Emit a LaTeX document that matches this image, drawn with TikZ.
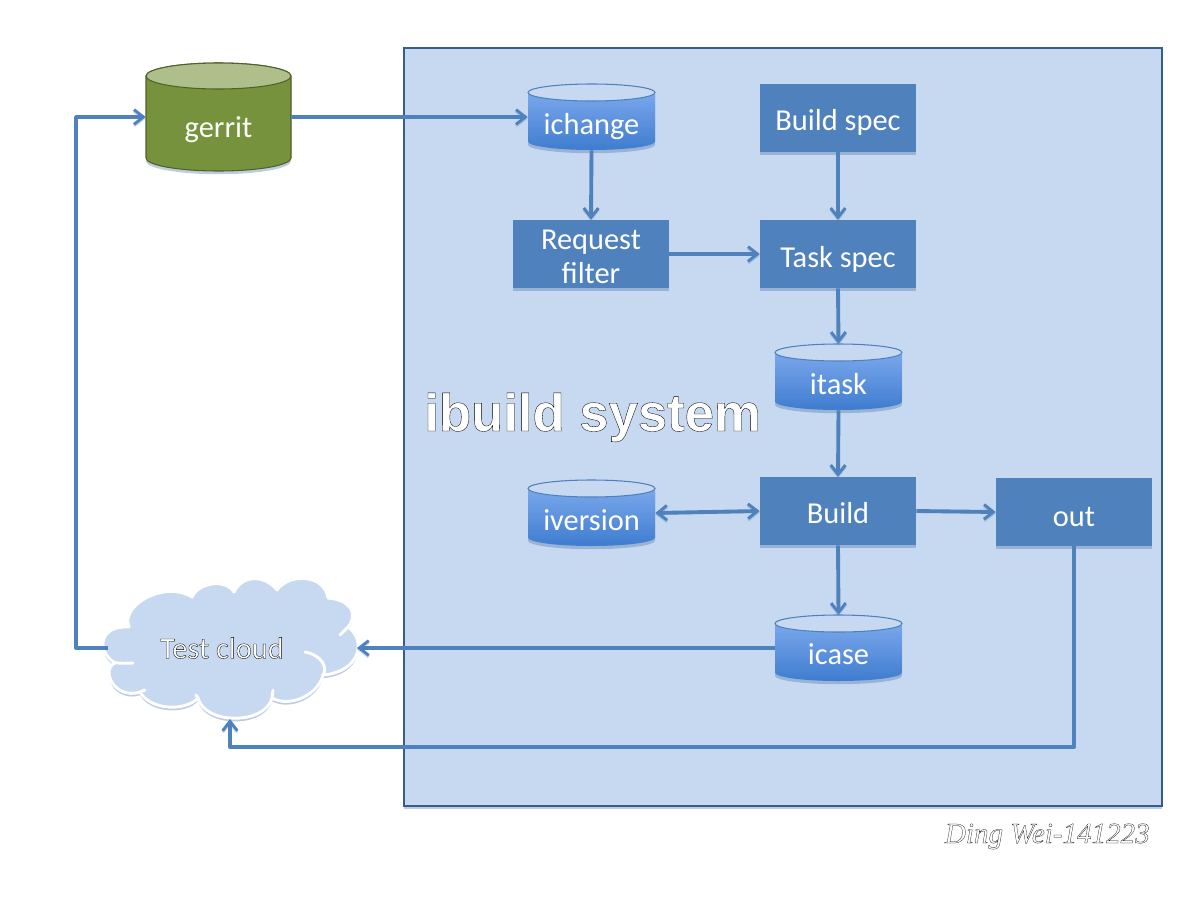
\documentclass[tikz,border=0pt]{standalone}
\usepackage{fontspec}
\setmainfont{Carlito}
\newfontfamily\headfont{Liberation Sans}
\newfontfamily\signfont{Liberation Serif}
\usetikzlibrary{arrows.meta,shadows}
\definecolor{panelfill}{HTML}{C6D9F1}
\definecolor{paneledge}{HTML}{385D8A}
\definecolor{flow}{HTML}{4F81BD}
\definecolor{boxfill}{HTML}{4F81BD}
\definecolor{greenbody}{HTML}{76923C}
\definecolor{greentop}{HTML}{AEBF8C}
\definecolor{greenedge}{HTML}{4F6228}
\definecolor{cyltop}{HTML}{83AEF0}
\definecolor{cylbot}{HTML}{3F7CCF}
\newcommand{\outl}[2]{\special{pdf:code 2 Tr #1 w 0 0 0 RG 1 1 1 rg}#2\special{pdf:code 0 Tr}}
\newcommand{\lbl}[2]{\raisebox{-#1pt}[0pt][0pt]{#2}}
\tikzset{
  softshadow/.style={drop shadow={shadow xshift=0pt,shadow yshift=-2.4pt,opacity=.35,fill=flow!85!black}},
  panel/.style={draw=paneledge,line width=.8pt,fill=panelfill,softshadow},
  stepbox/.style={fill=boxfill,text=white,font=\fontsize{22.8}{26}\selectfont,align=center,inner sep=0pt,
    minimum width=117pt,minimum height=51pt,softshadow},
  cyllabel/.style={text=white,font=\fontsize{22.8}{26}\selectfont,inner sep=0pt},
  flowline/.style={draw=flow,line width=2.9pt,line join=round,
    preaction={draw=flow,draw opacity=.3,transform canvas={yshift=-1.2pt}},
    -{Straight Barb[length=7pt,width=11pt,line width=2.2pt]}},
  flowboth/.style={flowline,{Straight Barb[length=7pt,width=11pt,line width=2.2pt]}-{Straight Barb[length=7pt,width=11pt,line width=2.2pt]}},
  flowthin/.style={flowline,line width=2.5pt},
}
% name, cx, cy, rx, half height, ry, body style, top style, text
\newcommand{\cyl}[9]{%
  \begin{scope}[shift={(#2,#3)}]
    \path[#7,softshadow] (-#4,-#5+#6) -- (-#4,#5-#6)
      arc[start angle=180,end angle=360,x radius=#4*.75pt,y radius=#6*.75pt]
      -- (#4,-#5+#6)
      arc[start angle=0,end angle=180,x radius=#4*.75pt,y radius=#6*.75pt] -- cycle;
    \path[#8] (0,-#5+#6) ellipse[x radius=#4*.75pt,y radius=#6*.75pt];
  \end{scope}
  \node[cyllabel,minimum width=#4*1.5pt,minimum height=#5*1.5pt] (#1) at (#2,#3) {#9};
}
\begin{document}
\begin{tikzpicture}[x=.75pt,y=-.75pt]
\useasboundingbox (0,0) rectangle (1200,900);
\fill[white] (0,0) rectangle (1200,900);

% panel
\draw[panel] (404,48) rectangle (1162,806);

% cylinders
\cyl{gerrit}{218.5}{117}{72.5}{54}{13}{fill=greenbody,draw=greenedge,line width=.8pt}{fill=greentop,draw=greenedge,line width=.8pt}{\lbl{15}{gerrit}}
\cyl{ichange}{591.5}{117}{63.5}{33}{8.5}{top color=cyltop,bottom color=cylbot}{fill=panelfill,draw=flow,line width=.8pt}{\lbl{12.75}{ichange}}
\cyl{itask}{838.5}{377}{63.5}{33}{8.5}{top color=cyltop,bottom color=cylbot}{fill=panelfill,draw=flow,line width=.8pt}{\lbl{12.75}{itask}}
\cyl{iversion}{591.5}{513}{63.5}{33}{8.5}{top color=cyltop,bottom color=cylbot}{fill=panelfill,draw=flow,line width=.8pt}{\lbl{12.75}{iversion}}
\cyl{icase}{838.5}{648}{63.5}{33}{8.5}{top color=cyltop,bottom color=cylbot}{fill=panelfill,draw=flow,line width=.8pt}{\lbl{12}{icase}}

% boxes
\node[stepbox] (bspec) at (838,118) {\lbl{9}{Build spec}};
\node[stepbox] (tspec) at (838,254) {\lbl{9.75}{Task spec}};
\node[stepbox] (rfilter) at (591,254)
  {\makebox[0pt]{\raisebox{3.75pt}[0pt][0pt]{Request}}\makebox[0pt]{\lbl{21.75}{filter}}};
\node[stepbox] (build) at (838,511) {\lbl{9}{Build}};
\node[stepbox] (out) at (1074,512) {\lbl{10.5}{out}};

% cloud
\path[fill=panelfill,draw=white,line width=2.2pt,softshadow,line join=round]
  (129,627) .. controls (120,605) and (165,580) .. (192,597)
  .. controls (198,583) and (225,578) .. (234,592)
  .. controls (243,574) and (265,575) .. (277,590)
  .. controls (290,572) and (325,575) .. (328,598)
  .. controls (352,600) and (358,615) .. (348,627)
  .. controls (367,640) and (360,672) .. (323,675)
  .. controls (318,695) and (290,708) .. (272,698)
  .. controls (265,725) and (205,725) .. (198,698)
  .. controls (185,712) and (150,710) .. (140,692)
  .. controls (115,700) and (100,670) .. (115,663)
  .. controls (95,650) and (100,625) .. (129,627) -- cycle;
\draw[white,line width=2.2pt,line cap=round]
  (305,652) .. controls (322,655) and (328,668) .. (323,675)
  (340,635) -- (348,627)
  (113,662) .. controls (120,664) and (126,663) .. (133,663)
  (140,692) -- (145,690)
  (272,698) -- (273,690)
  (198,698) -- (196,695)
  (129,627) -- (127,622);
\node[inner sep=0pt,font=\fontsize{22.8}{26}\selectfont] (cloud) at (222,648)
  {\outl{.25}{Test cloud}};
\coordinate (cloudE) at (357,648);
\coordinate (cloudW) at (108,648);
\coordinate (cloudS) at (230,719);
\coordinate (loopA) at (76,648);
\coordinate (loopB) at (76,117);
\coordinate (outA) at (1074,747);
\coordinate (outB) at (230,747);

% connectors
\draw[flowline] (gerrit.east) -- (ichange.west);
\draw[flowline] (ichange.south) -- (rfilter.north);
\draw[flowline] (bspec.south) -- (tspec.north);
\draw[flowthin] (rfilter.east) -- (tspec.west);
\draw[flowline] (tspec.south) -- (itask.north);
\draw[flowline] (itask.south) -- (build.north);
\draw[flowboth] (iversion.east) -- (build.west);
\draw[flowline] (build.east) -- (out.west);
\draw[flowline] (build.south) -- (icase.north);
\draw[flowline] (icase.west) -- (cloudE);
\draw[flowline] (out.south) -- (outA) -- (outB) -- (cloudS);
\draw[flowline] (cloudW) -- (loopA) -- (loopB) -- (gerrit.west);

% titles
\node[inner sep=0pt,anchor=base west,font=\headfont\bfseries\fontsize{39.5}{44}\selectfont] (title) at (424,431)
  {\outl{.25}{ibuild system}};
\node[inner sep=0pt,anchor=base east,font=\signfont\itshape\fontsize{21.8}{24}\selectfont] (sign) at (1150,843)
  {\outl{.18}{Ding Wei-141223}};
\end{tikzpicture}
\end{document}
